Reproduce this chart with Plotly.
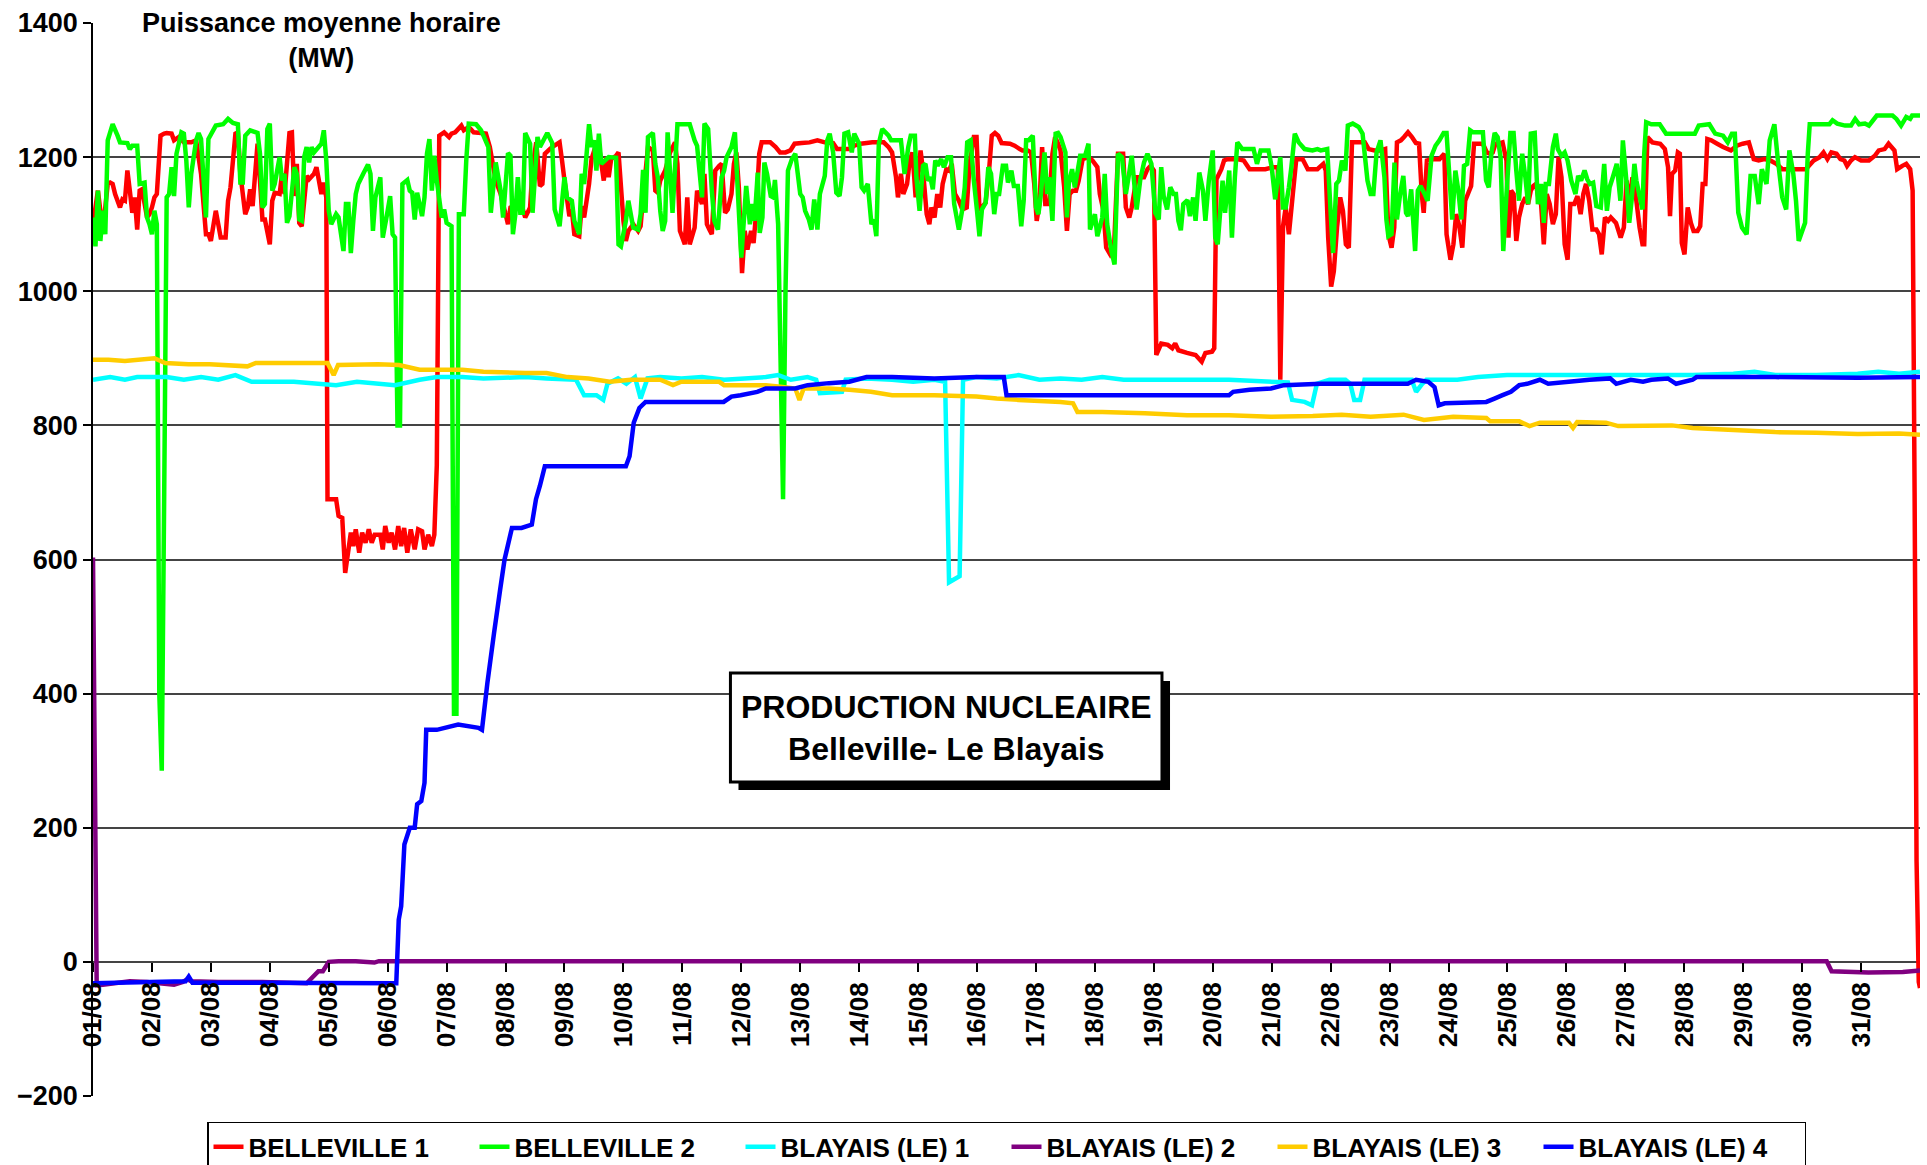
import pandas as pd
import plotly.graph_objects as go

# hourly mean power (MW), read as (hour since 01/08 00:00, MW)
BELLEVILLE_1 = [
    (0, 1100), (2, 1150), (4, 1090), (6, 1160), (7, 1162), (8, 1160), (9, 1145), (11, 1125), (12, 1137), (13, 1135),
    (14, 1180), (15, 1150), (16, 1117), (17, 1140), (18, 1092), (19, 1150), (20, 1152), (22, 1110), (23, 1115), (24, 1125),
    (25, 1140), (26, 1145), (27.5, 1232), (29, 1235), (30, 1236), (32, 1235), (33, 1225), (35, 1230), (37, 1222), (40, 1222),
    (42, 1225), (44, 1175), (46, 1085), (47, 1085), (48, 1075), (50, 1120), (51, 1100), (52, 1080), (54, 1080), (55, 1135),
    (56, 1155), (58, 1235), (59, 1237), (60, 1175), (62, 1115), (63, 1125), (64, 1152), (65, 1127), (67, 1220), (68, 1165),
    (69, 1107), (70, 1107), (72, 1070), (73, 1135), (74, 1147), (76, 1145), (77, 1175), (78, 1145), (80, 1236), (81, 1237),
    (82, 1142), (83, 1190), (84, 1102), (85, 1097), (87, 1172), (88, 1167), (90, 1175), (91, 1185), (93, 1145), (94, 1162),
    (95, 1140), (95.5, 690), (99, 690), (100, 665), (101.5, 662), (102.7, 580), (105, 640), (106, 620), (107, 645), (108.4, 610),
    (109.6, 640), (111, 625), (112.3, 645), (113.5, 625), (114.7, 637), (117, 637), (118, 615), (119, 650), (120.4, 625), (121.6, 640),
    (123, 615), (124.3, 650), (125.5, 620), (126.7, 647), (128, 610), (129.4, 645), (131, 615), (132.4, 645), (134, 642), (135, 615),
    (136.5, 637), (138, 620), (139, 637), (140, 740), (141, 1232), (143, 1237), (145, 1230), (146, 1235), (147.5, 1237), (150, 1247),
    (151, 1240), (153, 1245), (155, 1237), (158, 1236), (160, 1235), (161.6, 1215), (164, 1165), (166, 1145), (167, 1130), (169, 1100),
    (170, 1125), (173, 1130), (174, 1135), (176, 1110), (178, 1125), (179, 1185), (180.5, 1222), (182, 1157), (183, 1160), (184, 1205),
    (186, 1212), (187, 1215), (190, 1222), (191, 1195), (192, 1165), (194, 1112), (195, 1122), (196, 1085), (198, 1082), (199, 1127),
    (200, 1110), (202, 1160), (203, 1197), (205, 1220), (206, 1217), (208, 1165), (209, 1200), (210, 1170), (211, 1197), (213, 1202),
    (214, 1207), (216, 1105), (217, 1075), (218, 1090), (220, 1100), (222, 1090), (223, 1097), (224, 1140), (226, 1215), (228, 1210),
    (229, 1150), (230, 1147), (231, 1165), (233, 1180), (235, 1207), (237, 1222), (238, 1190), (239, 1090), (241, 1070), (242, 1140),
    (243, 1070), (245, 1095), (246, 1150), (248, 1130), (249, 1175), (250, 1100), (251, 1092), (252, 1085), (253.4, 1180), (255, 1187),
    (256, 1190), (257.4, 1117), (258.5, 1122), (260, 1145), (261, 1190), (262, 1207), (263, 1155), (264.3, 1027), (265.4, 1090), (266.5, 1062),
    (268, 1090), (269, 1072), (270, 1115), (271.3, 1205), (272.3, 1222), (275.8, 1222), (278, 1215), (279.8, 1207), (282, 1207), (284, 1210),
    (285.7, 1220), (288.6, 1221), (291.8, 1222), (295, 1225), (298, 1222), (301.4, 1221), (303, 1212), (305.4, 1212), (307.8, 1212), (310, 1217),
    (312.6, 1220), (317.4, 1222), (322, 1222), (324, 1215), (325.4, 1207), (327, 1170), (327.8, 1140), (329, 1175), (330, 1145), (331.5, 1160),
    (332.6, 1195), (333.7, 1207), (335, 1140), (335.8, 1165), (337, 1210), (338, 1180), (339.5, 1115), (340.6, 1100), (341.4, 1125), (342.7, 1110),
    (343.8, 1145), (345, 1125), (346, 1160), (347.5, 1182), (348.6, 1180), (349.7, 1190), (351, 1145), (352.6, 1135), (354, 1122), (355.8, 1125),
    (357, 1190), (358.7, 1230), (359.8, 1230), (361, 1120), (362, 1125), (363.5, 1132), (365, 1185), (366, 1232), (367.3, 1236), (368.6, 1232),
    (370, 1221), (373.4, 1220), (375.3, 1217), (377.4, 1212), (378.5, 1210), (380.6, 1210), (382, 1207), (383.3, 1160), (384.3, 1105), (385.4, 1130),
    (386.5, 1215), (387.8, 1130), (389.4, 1130), (390.7, 1205), (391.8, 1230), (393, 1220), (394, 1210), (395.5, 1155), (396.6, 1090), (397.7, 1145),
    (399, 1150), (400.3, 1150), (401.4, 1165), (403, 1197), (405.4, 1200), (407, 1195), (409, 1185), (410, 1145), (411.5, 1120), (412.6, 1065),
    (414.2, 1055), (415.8, 1065), (417.4, 1205), (419.5, 1205), (420.6, 1125), (422, 1110), (423, 1125), (425, 1170), (426.5, 1170), (428, 1170),
    (429.4, 1182), (430.7, 1187), (432, 1180), (433, 905), (435, 922), (437.7, 920), (439.5, 915), (440.7, 922), (442, 912), (445.5, 908),
    (449, 905), (451.5, 895), (453, 908), (455.7, 910), (456.6, 915), (457.5, 1167), (459.5, 1182), (460.6, 1195), (462, 1197), (466, 1197),
    (468.6, 1195), (471, 1182), (474, 1182), (477.4, 1182), (480.6, 1185), (482.5, 1185), (483.5, 868), (484.6, 1097), (485.7, 1125), (487, 1085),
    (488.6, 1145), (490, 1197), (492.6, 1197), (494.7, 1182), (497.4, 1182), (498.6, 1182), (501, 1190), (502, 1180), (503, 1080), (504.2, 1007),
    (505.3, 1030), (506.6, 1095), (507.9, 1140), (509, 1120), (510.2, 1070), (511.4, 1065), (512.7, 1222), (514.6, 1222), (517.9, 1222), (519.5, 1212),
    (521.9, 1210), (524.3, 1210), (526.2, 1212), (527.5, 1085), (528.8, 1065), (529.9, 1095), (531, 1222), (532.6, 1225), (533.9, 1230), (535.5, 1237),
    (537.1, 1230), (538.7, 1221), (540, 1220), (541.1, 1145), (541.9, 1117), (543.2, 1195), (545.1, 1197), (548.3, 1197), (550.3, 1205), (551.2, 1085),
    (552.8, 1047), (554, 1070), (555.1, 1115), (556.4, 1097), (557.6, 1065), (558.8, 1135), (559.9, 1145), (561.2, 1157), (562.4, 1220), (564.4, 1220),
    (566, 1220), (567.6, 1207), (568.9, 1205), (570, 1207), (571.1, 1220), (572.4, 1220), (574, 1222), (575.6, 1195), (576.4, 1080), (577.5, 1150),
    (578.5, 1145), (579.6, 1075), (580.7, 1110), (582, 1130), (583.3, 1140), (584.4, 1130), (585.5, 1150), (586.5, 1157), (587.6, 1160), (588.8, 1135),
    (589.7, 1130), (590.8, 1070), (592, 1145), (593.2, 1130), (594.5, 1100), (595.7, 1115), (596.8, 1200), (598, 1170), (599.3, 1070), (600.5, 1047),
    (601.6, 1130), (603.2, 1130), (604.5, 1142), (605.8, 1115), (606.9, 1145), (608, 1160), (609.3, 1135), (610.6, 1092), (612.2, 1092), (613.3, 1085),
    (614.4, 1055), (615.7, 1110), (617, 1105), (618.1, 1110), (620.2, 1102), (622.1, 1080), (623.4, 1095), (624.5, 1165), (625.6, 1130), (626.9, 1170),
    (628.5, 1135), (629.8, 1095), (631, 1070), (631.7, 1070), (633, 1230), (635, 1222), (638.2, 1220), (640.1, 1212), (641.4, 1185), (642.2, 1112),
    (643, 1175), (644.3, 1180), (645.4, 1207), (646.2, 1205), (647, 1072), (648.1, 1055), (649.4, 1125), (650.7, 1102), (651.8, 1090), (653.4, 1090),
    (654.5, 1097), (655.5, 1160), (656.6, 1160), (657.4, 1227), (659, 1225), (661.4, 1220), (663.8, 1215), (667, 1210), (669.4, 1217), (671.8, 1220),
    (674.3, 1222), (676.3, 1197), (678.3, 1195), (680.7, 1197), (683, 1195), (685.5, 1190), (687.9, 1182), (690.3, 1182), (694.3, 1182), (697.5, 1182),
    (700.7, 1195), (703.1, 1200), (704.7, 1207), (706.3, 1197), (707.9, 1207), (710, 1205), (711.6, 1197), (713.2, 1195), (714.3, 1187), (715.9, 1195),
    (717.5, 1200), (720, 1195), (723.2, 1195), (725.6, 1202), (727.2, 1210), (729.6, 1212), (731.2, 1220), (733.6, 1210), (734.7, 1182), (736.8, 1187),
    (738.4, 1190), (740, 1182), (741, 1150), (741.8, 700), (742.6, 150), (743.5, -30), (744, -39),
]

BELLEVILLE_2 = [
    (0, 1110), (1, 1067), (2, 1150), (3, 1075), (4, 1120), (5, 1085), (6, 1225), (8, 1249), (10, 1232), (11, 1222),
    (14, 1221), (15, 1212), (16, 1217), (18, 1217), (19, 1160), (21, 1162), (22, 1110), (23, 1100), (24, 1085), (25, 1120),
    (26, 1100), (27, 400), (28, 285), (29, 700), (30, 1140), (31, 1145), (32, 1185), (33, 1142), (34, 1205), (36, 1237),
    (37, 1235), (38, 1195), (39, 1125), (40, 1175), (42, 1225), (43, 1236), (44, 1227), (46, 1110), (47, 1227), (50, 1247),
    (53, 1249), (55, 1257), (57, 1251), (59, 1249), (60, 1162), (61, 1162), (62, 1232), (64, 1240), (67, 1236), (68, 1205),
    (69, 1125), (70, 1130), (71, 1242), (72, 1250), (73, 1150), (74, 1160), (76, 1200), (77, 1165), (78, 1175), (79, 1102),
    (80, 1112), (82, 1185), (83, 1175), (84, 1107), (85, 1105), (86, 1200), (87, 1215), (88, 1192), (89, 1215), (90, 1207),
    (93, 1220), (94, 1240), (95, 1195), (96, 1120), (97, 1100), (99, 1115), (100, 1110), (102, 1060), (103, 1130), (104, 1130),
    (105, 1057), (106, 1105), (107, 1145), (108, 1160), (110, 1175), (112, 1189), (113, 1175), (114, 1090), (115, 1140), (117, 1170),
    (118, 1080), (120, 1120), (121, 1142), (122, 1085), (123, 1080), (124, 800), (125, 800), (126, 1160), (128, 1166), (129, 1150),
    (130, 1147), (131, 1107), (132, 1147), (134, 1112), (135, 1140), (136, 1205), (137, 1227), (138, 1150), (139, 1202), (140, 1165),
    (142, 1110), (143, 1122), (144, 1102), (146, 1097), (147, 370), (148, 370), (149, 1115), (151, 1115), (152, 1195), (153, 1250),
    (156, 1249), (158, 1240), (159, 1232), (161, 1215), (162, 1117), (164, 1192), (166, 1150), (167, 1110), (169, 1206), (170, 1202),
    (171, 1085), (172, 1115), (173, 1170), (174, 1117), (175, 1117), (176, 1236), (178, 1220), (179, 1117), (181, 1230), (182, 1215),
    (185, 1236), (187, 1221), (188, 1122), (190, 1097), (192, 1170), (193, 1140), (195, 1135), (196, 1105), (198, 1085), (199, 1175),
    (200, 1160), (202, 1249), (203, 1215), (204, 1225), (205, 1180), (206, 1235), (207, 1190), (210, 1200), (213, 1199), (214, 1070),
    (215, 1067), (217, 1105), (218, 1135), (220, 1095), (222, 1092), (223, 1115), (224, 1181), (225, 1117), (226, 1230), (228, 1236),
    (229, 1190), (230, 1170), (231, 1120), (232, 1090), (233, 1105), (234, 1237), (236, 1117), (238, 1249), (243, 1249), (245, 1225),
    (246, 1217), (248, 1140), (249, 1250), (250.5, 1242), (252, 1150), (253, 1105), (254.5, 1092), (256, 1170), (257, 1180), (258, 1200),
    (260, 1215), (261.4, 1237), (262.5, 1155), (264, 1050), (266, 1157), (267.5, 1100), (268.6, 1130), (269.4, 1105), (270.7, 1177), (271.5, 1087),
    (272.6, 1110), (273.4, 1192), (274.5, 1175), (276, 1142), (277, 1140), (277.7, 1166), (279, 1100), (281, 690), (282, 1000), (283, 1180),
    (284.6, 1197), (286, 1205), (288, 1145), (289, 1140), (290, 1120), (291.5, 1107), (292.6, 1092), (293.7, 1137), (295, 1092), (296, 1145),
    (298, 1172), (299, 1225), (300, 1235), (301.4, 1207), (302.7, 1147), (304, 1142), (305, 1170), (306, 1235), (307.5, 1237), (309, 1207),
    (310, 1235), (312, 1220), (313, 1155), (314, 1150), (315.5, 1160), (317, 1100), (318, 1107), (319, 1082), (320, 1220), (321.4, 1242),
    (324, 1232), (325, 1225), (329, 1225), (330.5, 1175), (332, 1215), (333, 1232), (334.7, 1232), (335.3, 1170), (336.6, 1120), (338, 1187),
    (339, 1190), (340, 1165), (341, 1170), (342, 1152), (343, 1195), (344, 1187), (345.4, 1197), (346.5, 1185), (348, 1200), (349.4, 1200),
    (350.7, 1130), (352.6, 1092), (354, 1122), (355, 1155), (356, 1222), (357.4, 1225), (358.7, 1165), (360, 1120), (361, 1082), (362, 1122),
    (363.5, 1132), (364.6, 1185), (365.7, 1175), (367, 1115), (368, 1145), (369, 1145), (370.5, 1187), (371.8, 1187), (372.6, 1162), (374, 1180),
    (375, 1157), (376.6, 1157), (378, 1097), (379, 1135), (380, 1225), (381, 1225), (382.7, 1232), (384, 1125), (385, 1115), (386, 1145),
    (387.5, 1207), (388.6, 1145), (389.4, 1170), (390.7, 1105), (392, 1235), (393, 1236), (394, 1230), (396, 1207), (396.6, 1110), (397.4, 1162),
    (398.7, 1182), (399.8, 1155), (401, 1180), (402, 1202), (404, 1202), (405.4, 1220), (406, 1092), (408, 1115), (409, 1082), (411, 1110),
    (412, 1175), (413, 1100), (414.7, 1060), (416, 1040), (417.4, 1205), (419, 1200), (420.6, 1145), (421.7, 1170), (423, 1202), (425, 1122),
    (426.5, 1167), (428, 1192), (429.4, 1205), (431, 1190), (432.6, 1117), (434, 1107), (435, 1185), (436, 1142), (437.4, 1122), (438.7, 1155),
    (440, 1145), (441, 1145), (442, 1105), (443, 1091), (444, 1130), (445.7, 1136), (446.7, 1112), (448, 1140), (449, 1105), (450.5, 1177),
    (452, 1150), (453, 1105), (454.4, 1165), (456, 1210), (457, 1080), (458, 1070), (460, 1165), (461, 1117), (462.7, 1180), (463.8, 1080),
    (465, 1170), (466, 1222), (468, 1212), (472.6, 1212), (474, 1190), (475.5, 1210), (478.7, 1210), (480, 1185), (481.4, 1137), (482.5, 1170),
    (483.5, 1200), (484.6, 1125), (485.7, 1125), (487, 1155), (488, 1185), (489.4, 1235), (491, 1222), (493.4, 1212), (496.6, 1210), (498.6, 1212),
    (500, 1210), (502.6, 1212), (504.2, 1105), (505, 1057), (506.3, 1160), (507.4, 1165), (508.6, 1195), (510, 1180), (511, 1247), (513, 1250),
    (515.4, 1245), (517, 1235), (519, 1165), (520.3, 1145), (521.4, 1145), (522.7, 1207), (524.3, 1225), (525.9, 1170), (526.7, 1107), (527.5, 1082),
    (528.8, 1085), (530, 1192), (531, 1107), (532.3, 1145), (533.6, 1172), (534.7, 1117), (535.5, 1112), (536.8, 1152), (538.4, 1060), (539.5, 1150),
    (540.6, 1157), (542, 1147), (543.5, 1135), (545.1, 1202), (546.7, 1217), (548.3, 1225), (550, 1236), (551.2, 1236), (552.3, 1175), (553.5, 1107),
    (554.8, 1180), (556, 1150), (557.2, 1107), (558.3, 1187), (559.6, 1190), (560.8, 1240), (562, 1237), (566, 1237), (567.3, 1165), (568.4, 1155),
    (569.5, 1207), (570.8, 1236), (572, 1230), (573.2, 1200), (574.3, 1060), (575.6, 1145), (577.2, 1236), (578.5, 1236), (579.6, 1180), (580.7, 1135),
    (582, 1205), (583.3, 1170), (584.4, 1130), (585.5, 1235), (587.1, 1236), (588.4, 1130), (589.7, 1160), (590.8, 1102), (591.6, 1160), (592.9, 1160),
    (594.5, 1215), (595.7, 1235), (596.5, 1212), (598, 1202), (599.3, 1207), (600.5, 1195), (602, 1165), (603.7, 1145), (604.8, 1172), (606, 1165),
    (607.4, 1180), (608.5, 1167), (609.6, 1160), (610.9, 1162), (612.2, 1127), (614, 1125), (615.4, 1190), (616.5, 1120), (617.6, 1155), (618.9, 1170),
    (620.5, 1190), (622, 1135), (623, 1225), (624.5, 1162), (625.6, 1102), (626.6, 1137), (627.7, 1190), (628.5, 1165), (629.8, 1142), (631, 1122),
    (631.7, 1205), (632.5, 1252), (634.6, 1249), (638, 1249), (640.6, 1235), (644.6, 1235), (652.3, 1235), (653.9, 1247), (658.2, 1249), (660.6, 1235),
    (663.8, 1232), (665.7, 1222), (667.4, 1235), (668.6, 1235), (670, 1117), (671.5, 1095), (673.4, 1085), (675, 1172), (676.7, 1172), (678.3, 1130),
    (679.6, 1182), (681.5, 1160), (682.8, 1225), (684.7, 1249), (686, 1200), (687.9, 1140), (689.5, 1122), (690.8, 1210), (692.4, 1175), (693.5, 1135),
    (694.6, 1075), (697.2, 1102), (698.3, 1205), (699.1, 1249), (701.5, 1249), (707.1, 1249), (708.4, 1255), (710.3, 1250), (713.5, 1247), (715.9, 1247),
    (717.6, 1257), (719.2, 1249), (721.6, 1250), (723.2, 1247), (726.4, 1262), (732.8, 1262), (734.4, 1257), (736.3, 1247), (738.4, 1260), (740, 1257),
    (740.8, 1262), (744, 1262),
]

BLAYAIS_1 = [
    (0, 868), (7, 872), (13, 868), (18, 872), (30, 872), (37, 868), (44, 872), (51, 868), (58, 875), (64.6, 865),
    (81.8, 865), (99, 860), (107.5, 865), (123, 860), (133, 868), (140, 872), (150.4, 872), (159, 870), (176, 872), (184.7, 870),
    (196.7, 868), (200, 845), (205, 845), (207.8, 838), (209.5, 862), (213.8, 870), (217.2, 862), (220.7, 872), (223, 840), (225.8, 870),
    (231, 872), (239.6, 870), (248, 872), (257, 868), (265.4, 870), (274, 872), (279, 875), (284.2, 868), (291, 872), (294.5, 868),
    (296, 848), (305, 850), (306.5, 868), (315, 870), (325.4, 868), (334, 865), (342.6, 868), (347, 865), (348.6, 566), (352.9, 575),
    (354.3, 868), (359.7, 872), (368, 870), (376.9, 875), (385.4, 868), (394, 870), (402.6, 868), (411, 872), (419.7, 868), (437, 868),
    (462.6, 868), (486.6, 864), (488.3, 838), (493.4, 835), (496.4, 830), (498.4, 862), (503.5, 868), (510, 868), (512, 862), (513.6, 838),
    (516, 838), (517.8, 868), (537, 868), (538.8, 850), (541.3, 862), (543, 868), (555.6, 868), (564, 872), (575.8, 875), (617.8, 875),
    (651.4, 875), (668, 877), (676.6, 880), (685, 875), (701.8, 875), (718.6, 877), (727, 880), (735.5, 877), (744, 880),
]

BLAYAIS_2 = [
    (0, 603), (1.5, -35), (4, -34), (15, -29), (22, -30), (33, -34), (36.6, -30), (38.4, -26), (40, -29), (51, -30),
    (69, -30), (87, -32), (91.8, -14), (93.6, -14), (96, 0), (100, 1), (107, 1), (114.6, -1), (116.4, 1), (123.6, 1),
    (706, 1), (708, -14), (723, -16), (737, -15), (744, -13),
]

BLAYAIS_3 = [
    (0, 898), (6.3, 898), (13, 896), (25, 900), (29.4, 893), (38.9, 891), (47.5, 891), (62.9, 888), (66.3, 893), (81.8, 893),
    (95.5, 893), (98, 875), (99.8, 890), (116, 891), (124.6, 890), (133, 883), (150.4, 883), (159, 880), (176, 878), (184.7, 878),
    (193.2, 872), (201.8, 870), (210.4, 865), (219, 868), (231, 868), (236.2, 860), (239.6, 865), (255, 865), (257, 860), (274, 860),
    (279, 858), (286, 855), (287.7, 838), (289.4, 855), (299.7, 855), (308, 853), (316.8, 850), (325.4, 845), (342.6, 845), (359.7, 843),
    (368, 840), (376.9, 838), (394, 835), (399.1, 833), (400.9, 820), (411, 820), (428.3, 818), (445.5, 815), (462.6, 815), (479.7, 813),
    (496.7, 814), (508.5, 816), (520.3, 813), (533.7, 816), (542, 808), (553.9, 813), (567.4, 811), (569, 806), (580.8, 806), (585, 799),
    (589.2, 804), (601, 804), (602.7, 796), (604.4, 805), (616.1, 804), (621.1, 799), (643, 800), (651.4, 796), (668, 793), (685, 790),
    (701.8, 789), (718.6, 787), (735.5, 788), (744, 786),
]

BLAYAIS_4 = [
    (0, -32), (37.7, -29), (39, -22), (40.5, -31), (123.5, -32), (124.5, 63), (125.5, 83), (126.8, 175), (129, 200), (131, 200),
    (132, 235), (133.7, 240), (135, 267), (135.7, 346), (140, 346), (148.7, 354), (157, 349), (158.4, 346), (160.6, 416), (163.3, 490),
    (165.8, 555), (167.6, 600), (170.6, 647), (174.5, 647), (178.7, 652), (180.4, 690), (182, 710), (184, 739), (201.7, 739), (217, 739),
    (218.5, 754), (220.2, 804), (222.5, 826), (225, 835), (256.8, 835), (260, 843), (263.7, 845), (270.5, 850), (274, 855), (286, 855),
    (291, 860), (299.7, 863), (308, 865), (315, 872), (325.4, 872), (342.6, 870), (359.7, 872), (370.9, 872), (372, 845), (394, 845),
    (428, 845), (462.6, 845), (464.3, 850), (471, 853), (479.7, 855), (485, 860), (500, 862), (517, 862), (535.4, 862), (538.8, 868),
    (543.8, 865), (546.3, 857), (548, 830), (550.5, 833), (567.4, 835), (570.7, 840), (574, 845), (577.4, 850), (580.8, 860), (584, 862),
    (589.2, 868), (592.6, 862), (601, 865), (609.4, 868), (617.8, 870), (620.3, 862), (626.2, 868), (631.2, 865), (634.6, 868), (641.3, 870),
    (644.7, 862), (651.4, 868), (653, 872), (685, 872), (718.6, 871), (744, 872),
]

SERIES = [
    ("BELLEVILLE 1", BELLEVILLE_1, "#FF0000", 4.5),
    ("BELLEVILLE 2", BELLEVILLE_2, "#00FF00", 4.5),
    ("BLAYAIS (LE) 1", BLAYAIS_1, "#00FFFF", 4.5),
    ("BLAYAIS (LE) 2", BLAYAIS_2, "#800080", 4.5),
    ("BLAYAIS (LE) 3", BLAYAIS_3, "#FFCC00", 4.5),
    ("BLAYAIS (LE) 4", BLAYAIS_4, "#0000FF", 4.5),
]

START = pd.Timestamp("2008-08-01")
DAYS = pd.date_range(START, periods=31, freq="D")
Y_TICKS = list(range(-200, 1401, 200))

FONT = "Liberation Sans, Arial, sans-serif"

fig = go.Figure()
for name, points, color, width in SERIES:
    hours, mw = zip(*points)
    fig.add_trace(
        go.Scatter(
            x=START + pd.to_timedelta(list(hours), unit="h"),
            y=list(mw),
            mode="lines",
            name=name,
            line=dict(color=color, width=width, simplify=False),
        )
    )

fig.update_layout(
    width=1927,
    height=1165,
    margin=dict(l=93, r=7, t=23, b=69, autoexpand=False),
    paper_bgcolor="white",
    plot_bgcolor="white",
    font=dict(family=FONT, size=26, color="black", weight="bold"),
    showlegend=True,
    legend=dict(
        orientation="h",
        x=0.5,
        xanchor="center",
        y=-0.024,
        yanchor="top",
        bordercolor="black",
        borderwidth=1.5,
        bgcolor="white",
        entrywidth=221,
        entrywidthmode="pixels",
        font=dict(family=FONT, size=26, color="black", weight="bold"),
        tracegroupgap=0,
    ),
    xaxis=dict(
        range=[START, START + pd.Timedelta(days=31)],
        anchor="free",
        position=0.125,
        tickvals=list(DAYS),
        tickformat="%d/%m",
        tickangle=-90,
        ticks="outside",
        ticklen=9,
        tickwidth=1.5,
        tickcolor="black",
        showgrid=False,
        showline=False,
        zeroline=False,
        automargin=False,
        tickfont=dict(family=FONT, size=26, color="black", weight="bold"),
    ),
    yaxis=dict(
        range=[-200, 1400],
        tickvals=Y_TICKS,
        ticks="outside",
        ticklen=8,
        tickwidth=1.5,
        tickcolor="black",
        showline=True,
        linecolor="black",
        linewidth=1.5,
        showgrid=True,
        gridcolor="#444444",
        gridwidth=1.5,
        zeroline=False,
        automargin=False,
        tickfont=dict(family=FONT, size=27, color="black", weight="bold"),
    ),
)

# caption box with drop shadow
fig.add_shape(type="rect", xref="paper", yref="paper", x0=0.3533, x1=0.5895, y0=0.2852, y1=0.3868,
              fillcolor="black", line=dict(width=0), layer="above")
fig.add_shape(type="rect", xref="paper", yref="paper", x0=0.3489, x1=0.5851, y0=0.2926, y1=0.3942,
              fillcolor="white", line=dict(color="black", width=3), layer="above")
fig.add_annotation(
    xref="paper", yref="paper", x=0.467, y=0.3434, xanchor="center", yanchor="middle",
    text="PRODUCTION NUCLEAIRE<br>Belleville- Le Blayais", showarrow=False,
    font=dict(family=FONT, size=32, color="black", weight="bold"),
)

# axis title sitting on the top gridline
fig.add_annotation(
    xref="paper", yref="paper", x=0.1253, y=0.984, xanchor="center", yanchor="middle",
    text="Puissance moyenne horaire<br>(MW)", showarrow=False, bgcolor="white",
    font=dict(family=FONT, size=27, color="black", weight="bold"),
)

# page body margin would shift the figure by 8px and add scrollbars
fig.write_html(
    "out.html",
    config={"displayModeBar": False},
    post_script="document.body.style.margin='0';document.body.style.overflow='hidden';",
)
